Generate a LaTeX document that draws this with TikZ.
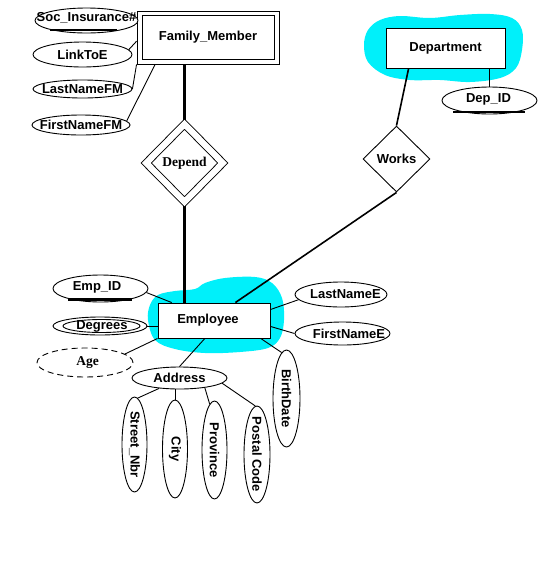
\documentclass[tikz,border=0pt]{standalone}
\usepackage{fontspec}
\setmainfont{Liberation Sans}
\newfontfamily\erserif{Liberation Serif}
\usetikzlibrary{shapes.geometric,calc}
\pgfdeclarelayer{blobs}
\pgfdeclarelayer{links}
\pgfsetlayers{blobs,links,main}
\definecolor{aqua}{RGB}{0,240,250}
\newcommand{\ersans}{\fontsize{13}{15}\selectfont\bfseries}
\newcommand{\erserifb}{\fontsize{13.5}{15}\selectfont\erserif\bfseries}
\begin{document}
\begin{tikzpicture}[x=1pt,y=-1pt,
  attr/.style={draw, ellipse, line width=0.9pt, inner sep=0pt, fill=white},
  ent/.style={draw, rectangle, line width=0.9pt, fill=white, inner sep=0pt, font=\ersans},
  rel/.style={draw, diamond, aspect=1, inner sep=0pt, line width=0.9pt, fill=white},
  lbl/.style={font=\ersans, inner sep=0pt},
  lbls/.style={font=\erserifb, inner sep=0pt},
  lk/.style={line width=0.9pt},
  lkthick/.style={line width=3pt},
  lkmid/.style={line width=1.6pt},
  ul/.style={line width=2.2pt},
  derived/.style={dash pattern=on 6pt off 4pt},
  blob/.style={fill=aqua, draw=none}]
\useasboundingbox (0,0) rectangle (547,579);

% entities
\node[ent, minimum width=142pt, minimum height=53pt] (fm) at (208,37.5) {Family\_Member};
\draw[lk] ($(fm.north west)+(6,5)$) rectangle ($(fm.south east)+(-5,-5)$);
\node[ent, minimum width=119pt, minimum height=40pt] (dept) at (445.5,48) {Department};
\node[ent, minimum width=112pt, minimum height=35pt, label={[lbl,xshift=-6pt]center:Employee}] (emp) at (214,320.5) {};

% relationships
\node[rel, double, double distance=6.2pt, minimum width=77pt, minimum height=78pt, font=\erserifb] (depend) at (184.5,163) {Depend};
\node[rel, minimum width=67pt, minimum height=66pt, font=\ersans] (works) at (396.5,159) {Works};

% family member attributes
\node[attr, minimum width=103pt, minimum height=25pt, label={[lbl,yshift=3pt]center:Soc\_Insurance\#}] (soc) at (86.5,20.5) {};
\node[attr, minimum width=99pt, minimum height=25pt, label={[lbl]center:LinkToE}] (linktoe) at (82.5,54.5) {};
\node[attr, minimum width=99pt, minimum height=18pt, label={[lbl]center:LastNameFM}] (lastnamefm) at (82.5,89) {};
\node[attr, minimum width=98pt, minimum height=20pt, label={[lbl]center:FirstNameFM}] (firstnamefm) at (81,125) {};

% department attribute
\node[attr, minimum width=95pt, minimum height=27pt, label={[lbl,xshift=-1pt,yshift=1pt]center:Dep\_ID}] (depid) at (489.5,100.5) {};

% employee attributes
\node[attr, minimum width=95pt, minimum height=27pt, label={[lbl,xshift=-3.5pt,yshift=1.5pt]center:Emp\_ID}] (empid) at (100.5,288.5) {};
\node[attr, minimum width=94pt, minimum height=18pt, label={[lbl,xshift=2pt]center:Degrees}] (degrees) at (100,326) {};
\node[attr, derived, minimum width=96pt, minimum height=29pt, label={[lbls,xshift=2.5pt]center:Age}] (age) at (85,362.5) {};
\node[attr, minimum width=92pt, minimum height=25pt, label={[lbl,xshift=4.5pt]center:LastNameE}] (lastnamee) at (341,294.5) {};
\node[attr, minimum width=95pt, minimum height=23pt, label={[lbl,xshift=6.5pt]center:FirstNameE}] (firstnamee) at (342.5,333.5) {};
\node[attr, minimum width=95pt, minimum height=22pt, label={[lbl]center:Address}] (address) at (179.5,378) {};
\node[attr, minimum width=27pt, minimum height=97pt, label={[lbl,rotate=-90]center:BirthDate}] (birthdate) at (286.5,398.5) {};
\node[attr, minimum width=25pt, minimum height=95pt, label={[lbl,rotate=-90]center:Street\_Nbr}] (street) at (134.5,444.5) {};
\node[attr, minimum width=25pt, minimum height=98pt, label={[lbl,rotate=-90]center:City}] (city) at (175,449) {};
\node[attr, minimum width=25pt, minimum height=98pt, label={[lbl,rotate=-90]center:Province}] (province) at (214.5,450) {};
\node[attr, minimum width=26pt, minimum height=97pt, label={[lbl,rotate=-90]center:Postal Code}] (postal) at (257,454.5) {};

% multivalued inner ring and key underlines
\draw[lk] ($(degrees.center)+(1.5,0)$) ellipse [x radius=38.5pt, y radius=6.5pt];
\draw[ul] ($(soc.center)+(-36.5,9.5)$) -- ++(67,0);
\draw[ul] ($(empid.center)+(-32.5,11)$) -- ++(64,0);
\draw[ul] ($(depid.center)+(-36.5,11.5)$) -- ++(72,0);

% highlight blobs
\begin{pgfonlayer}{blobs}
\fill[blob] plot[smooth cycle, tension=0.6] coordinates {(364,45) (368,30) (380,20) (400,16) (430,18) (460,15) (490,14) (512,18) (522,30) (522,50) (516,68) (500,78) (470,82) (440,80) (410,80) (385,75) (368,62)};
\fill[blob] plot[smooth cycle, tension=0.6] coordinates {(148,320) (150,305) (158,295) (175,291) (195,289) (205,283) (225,278) (255,277) (272,283) (282,298) (284,320) (280,338) (268,348) (240,352) (205,353) (175,349) (155,340)};
\end{pgfonlayer}

% connectors
\begin{pgfonlayer}{links}
\draw[lk] (linktoe.6) -- (fm.183);
\draw[lk] (lastnamefm.east) -- (fm.south west);
\draw[lk] (firstnamefm.5) -- (fm.207);
\draw[lkthick] (depend.north) -- (depend.north |- fm.south);
\draw[lkthick] (depend.south) -- (depend.south |- emp.north);
\draw[lkmid] (works.north) -- (dept.209);
\draw[lkmid] (works.south) -- (emp.40);
\draw[lk] (depid.north) -- (depid.north |- dept.south);
\draw[lk] (empid.-5) -- (emp.157);
\draw[lk] (degrees.east) -- (degrees.east -| emp.west);
\draw[lk] (age.12) -- (emp.south west);
\draw[lk] (lastnamee.187) -- (emp.11);
\draw[lk] (firstnamee.west) -- (emp.-6);
\draw[lk] (address.north) -- (emp.243);
\draw[lk] (birthdate.96) -- (emp.-21);
\draw[lk] (address.207) -- (street.86);
\draw[lk] (city.north) -- (city.north |- address.south);
\draw[lk] (address.-21) -- (province.96);
\draw[lk] (address.-7) -- (postal.92);
\end{pgfonlayer}
\end{tikzpicture}
\end{document}
